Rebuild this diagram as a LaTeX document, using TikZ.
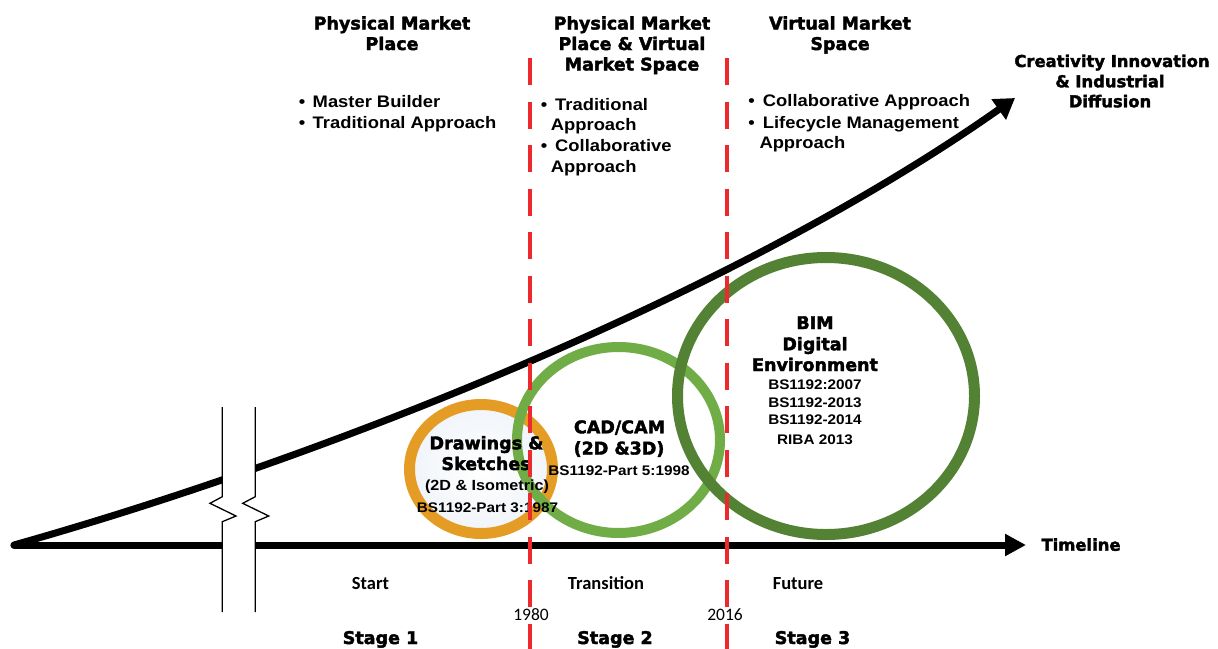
\documentclass[tikz,border=0pt]{standalone}
\usepackage{fontspec}
\usetikzlibrary{arrows.meta}
\newfontfamily\heavyf{DejaVu Sans}[FakeBold=2.2]
\newfontfamily\medf{Liberation Sans}[FakeStretch=1.1]
\newfontfamily\calf{Carlito}
\definecolor{orng}{HTML}{E59C24}
\definecolor{lgreen}{HTML}{70AD47}
\definecolor{dgreen}{HTML}{548235}
\definecolor{redd}{HTML}{EC2A2E}
\definecolor{fillc}{HTML}{F0F4F9}
\tikzset{
  hd/.style={font=\heavyf\bfseries\fontsize{17.5}{20}\selectfont, anchor=base, inner sep=0pt},
  hdc/.style={font=\heavyf\bfseries\fontsize{16.4}{20}\selectfont, anchor=base, inner sep=0pt},
  md/.style={font=\medf\bfseries\fontsize{16.7}{20}\selectfont, anchor=base west, inner sep=0pt},
  bul/.style={font=\medf\bfseries\fontsize{16.7}{20}\selectfont, anchor=base, inner sep=0pt},
  sub/.style={font=\medf\bfseries\fontsize{#1}{16}\selectfont, anchor=base, inner sep=0pt},
  sub/.default=13.9,
  cb/.style={font=\calf\bfseries\fontsize{18.5}{20}\selectfont, anchor=base, inner sep=0pt},
  cr/.style={font=\calf\fontsize{17.5}{20}\selectfont, anchor=base, inner sep=0pt},
  ring/.style={line width=#1},
  heavyline/.style={line width=7pt},
  brk/.style={line width=1.3pt, line join=miter},
  reddash/.style={draw=redd, line width=3.5pt, dash pattern=on 27pt off 16.5pt}
}
\begin{document}
\begin{tikzpicture}[x=1pt,y=-1pt]
\useasboundingbox (0,0) rectangle (1218,648);
% circles
\shade[inner color=white, outer color=fillc] (481,469) ellipse [x radius=71.5pt, y radius=64.5pt];
\draw[ring=11pt, draw=orng] (481,469) ellipse [x radius=71.5pt, y radius=64.5pt];
\draw[ring=10pt, draw=lgreen] (618.5,440) ellipse [x radius=101.5pt, y radius=93pt];
\draw[ring=11pt, draw=dgreen] (826,396) ellipse [x radius=148.5pt, y radius=138.5pt];
% axes
\coordinate (origin) at (14,545);
\coordinate (tip) at (1015,98);
\coordinate (tlend) at (1026,545);
\draw[heavyline, line cap=round, -{Triangle[length=20pt,width=24pt]}] (origin) .. controls (350,450) and (750,285) .. (tip);
\draw[heavyline, line cap=round, -{Triangle[length=21pt,width=21pt]}] (origin) -- (tlend);
% break marks
\fill[white] (222.3,407) -- (222.3,496.7) -- (210,503.3) -- (236,516) -- (222.3,521.7) -- (222.3,612)
  -- (255.3,612) -- (255.3,521.7) -- (268.7,516) -- (242.7,503.3) -- (255.3,496.7) -- (255.3,407) -- cycle;
\draw[brk] (222.3,407) -- (222.3,496.7) -- (210,503.3) -- (236,516) -- (222.3,521.7) -- (222.3,612);
\draw[brk] (255.3,407) -- (255.3,496.7) -- (242.7,503.3) -- (268.7,516) -- (255.3,521.7) -- (255.3,612);
% headers
\node[hd] (h1a) at (392,29.5) {Physical Market};
\node[hd] (h1b) at (392,50) {Place};
\node[hd] (h2a) at (632,29.5) {Physical Market};
\node[hd] (h2b) at (632,50) {Place \& Virtual};
\node[hd] (h2c) at (632,70.5) {Market Space};
\node[hd] (h3a) at (840,29.5) {Virtual Market};
\node[hd] (h3b) at (840,50) {Space};
\node[hdc] (c1) at (1112,67) {Creativity Innovation};
\node[hdc] (c2) at (1110,87.3) {\& Industrial};
\node[hdc] (c3) at (1110,107.3) {Diffusion};
% bullets
\node[bul] (b1a) at (302,107.3) {•};
\node[md] (t1a) at (312.5,107.3) {Master Builder};
\node[bul] (b1b) at (302,128.3) {•};
\node[md] (t1b) at (312.5,128.3) {Traditional Approach};
\node[bul] (b2a) at (544,110) {•};
\node[md] (t2a) at (555,110) {Traditional};
\node[md] (t2b) at (550.7,130.7) {Approach};
\node[bul] (b2c) at (544,151.3) {•};
\node[md] (t2c) at (555,151.3) {Collaborative};
\node[md] (t2d) at (550.7,172) {Approach};
\node[bul] (b3a) at (751.7,106.7) {•};
\node[md] (t3a) at (762.7,106.7) {Collaborative Approach};
\node[bul] (b3b) at (751.7,128.3) {•};
\node[md] (t3b) at (762.7,128.3) {Lifecycle Management};
\node[md] (t3c) at (759.3,148.3) {Approach};
% circle texts
\node[hd] (o1) at (486.5,449.3) {Drawings \&};
\node[hd] (o2) at (486,470) {Sketches};
\node[sub=14.7] (o3) at (487,490.7) {(2D \& Isometric)};
\node[sub] (o4) at (487.5,512.7) {BS1192-Part 3:1987};
\node[hd] (g1) at (619.5,433.3) {CAD/CAM};
\node[hd] (g2) at (619,454.5) {(2D \&3D)};
\node[sub] (g3) at (619,475) {BS1192-Part 5:1998};
\node[hd] (d1) at (815,329) {BIM};
\node[hd] (d2) at (815,350.3) {Digital};
\node[hd] (d3) at (815,371) {Environment};
\node[sub] (d4) at (815,389) {BS1192:2007};
\node[sub] (d5) at (815,407.3) {BS1192-2013};
\node[sub] (d6) at (815,424.7) {BS1192-2014};
\node[sub] (d7) at (815,444) {RIBA 2013};
% timeline labels
\node[hdc] (tl) at (1081,550.7) {Timeline};
\node[cb] (s1) at (370.5,589) {Start};
\node[cb] (s2) at (606,589) {Transition};
\node[cb] (s3) at (798,589) {Future};
\node[cr] (y1) at (531,620) {1980};
\node[cr] (y2) at (725,620) {2016};
\node[hd] (st1) at (380.5,644) {Stage 1};
\node[hd] (st2) at (615,644) {Stage 2};
\node[hd] (st3) at (812.5,644) {Stage 3};
% red dashed lines
\coordinate (r1t) at (530,58);
\coordinate (r1b) at (530,660);
\coordinate (r2t) at (727,58);
\coordinate (r2b) at (727,660);
\draw[reddash] (r1t) -- (r1b);
\draw[reddash] (r2t) -- (r2b);
\end{tikzpicture}
\end{document}
